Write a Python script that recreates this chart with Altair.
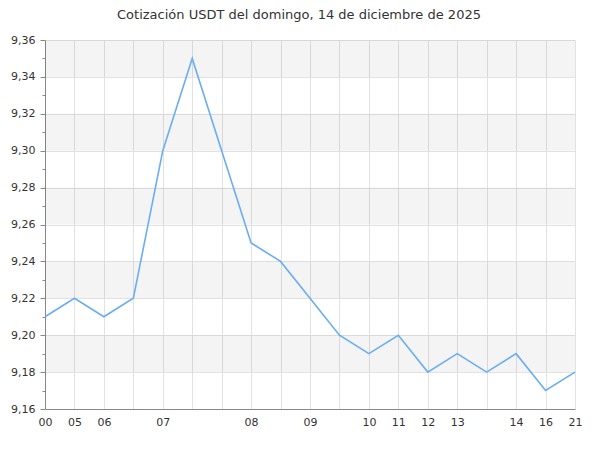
import altair as alt
import pandas as pd

title_text = "Cotización USDT del domingo, 14 de diciembre de 2025"
hours = ["00", "05", "06", "06", "07", "07", "07", "08", "08", "09",
         "09", "10", "11", "12", "13", "13", "14", "16", "21"]
prices = [9.21, 9.22, 9.21, 9.22, 9.30, 9.35, 9.30, 9.25, 9.24, 9.22,
          9.20, 9.19, 9.20, 9.18, 9.19, 9.18, 9.19, 9.17, 9.18]
band_lo = [9.18, 9.22, 9.26, 9.30, 9.34]
band_hi = [9.20, 9.24, 9.28, 9.32, 9.36]
y_min, y_max = 9.16, 9.36

# show an hour label only when it changes
shown = [h if (i == 0 or h != hours[i - 1]) else "" for i, h in enumerate(hours)]
n = len(prices)
df = pd.DataFrame({"i": list(range(n)), "price": prices})
bands = pd.DataFrame({"lo": band_lo, "hi": band_hi})

label_js = "[" + ",".join("'%s'" % s for s in shown) + "]"
y_vals = [round(y_min + 0.01 * k, 2) for k in range(int(round((y_max - y_min) * 100)) + 1)]
even = "round(datum.value*100) % 2 == 0"

xscale = alt.Scale(domain=[0, n - 1], nice=False, zero=False)
yscale = alt.Scale(domain=[y_min, y_max], nice=False, zero=False)

xaxis = alt.Axis(values=list(range(n)), labelExpr=label_js + "[round(datum.value)]",
                 title=None, ticks=False, labelPadding=7, labelOverlap=False,
                 labelFontSize=11, labelColor="#333", domainColor="#888",
                 grid=True, gridColor="#e2e2e2", labelFlush=False)
yaxis = alt.Axis(values=y_vals,
                 labelExpr=even + " ? replace(format(datum.value, '.2f'), '.', ',') : ''",
                 title=None, labelOverlap=False, labelFontSize=11, labelColor="#333",
                 domainColor="#888", tickColor="#888",
                 tickSize={"condition": {"test": even, "value": 5}, "value": 3},
                 gridOpacity={"condition": {"test": even, "value": 1}, "value": 0},
                 grid=True, gridColor="#e2e2e2", labelPadding=5, labelFlush=False)

band_layer = alt.Chart(bands).mark_rect(color="#000", opacity=0.045).encode(
    x=alt.X(datum=0, scale=xscale, axis=xaxis, type="quantitative"),
    x2=alt.datum(n - 1),
    y=alt.Y("lo:Q", scale=yscale, axis=yaxis),
    y2="hi:Q",
)

line_layer = alt.Chart(df).mark_line(color="#6aaef2", strokeWidth=1.6).encode(
    x=alt.X("i:Q", scale=xscale, axis=xaxis),
    y=alt.Y("price:Q", scale=yscale, axis=yaxis),
)

chart = alt.layer(band_layer, line_layer).properties(
    width=530, height=369,
    autosize=alt.AutoSizeParams(type="none"),
    padding={"left": 37, "top": 32, "right": 17, "bottom": 33},
    title=alt.TitleParams(title_text, anchor="middle", frame="group", dx=-11,
                          offset=12, fontSize=13, fontWeight="normal",
                          color="#333", font="DejaVu Sans"),
).configure(font="DejaVu Sans").configure_view(stroke=None)

chart.save("out.html", embed_options={"renderer": "svg", "actions": False})
